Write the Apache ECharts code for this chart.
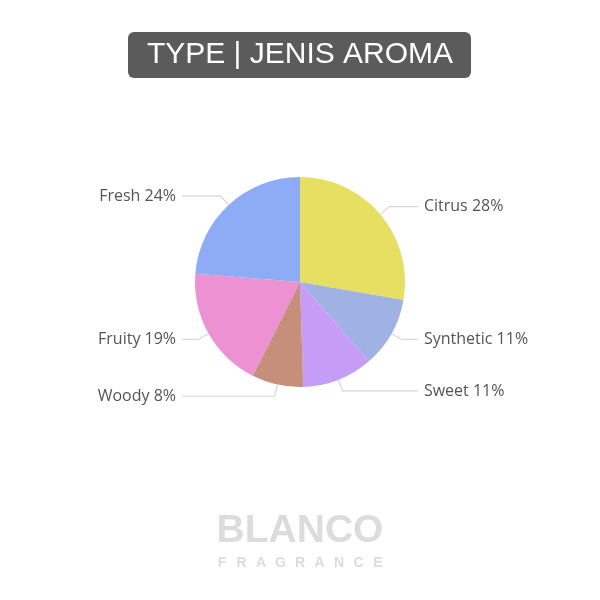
<!DOCTYPE html>
<html><head><meta charset="utf-8">
<script src="https://cdn.jsdelivr.net/npm/echarts@6/dist/echarts.min.js"></script>
<style>html,body{margin:0;padding:0;background:#fff}#c{width:600px;height:600px}</style>
</head><body><div id="c"></div>
<script>
const categories = ['Citrus','Synthetic','Sweet','Woody','Fruity','Fresh'];
const values = [28, 11, 11, 8, 19, 24];
const colors = ['#e6df62','#9fb2e3','#c59cf6','#c68f7b','#ec92d2','#8eabf6'];
const titleText = 'TYPE | JENIS AROMA';
const brandText = 'BLANCO';
const subBrandLetters = ['F','R','A','G','R','A','N','C','E'];

const graphics = [
  {type:'rect', shape:{x:128,y:32,width:343,height:46,r:6}, style:{fill:'#5b5b5b'}},
  {type:'text', x:300, y:55, style:{text:titleText, fill:'#fff', font:'30px "Liberation Sans", Arial, sans-serif', align:'center', verticalAlign:'middle'}},
  {type:'text', x:300, y:531, style:{text:brandText, fill:'#dcdcdc', font:'bold 39px "Liberation Sans", Arial, sans-serif', align:'center', verticalAlign:'middle'}}
];
subBrandLetters.forEach((ch,i)=>{
  graphics.push({type:'text', x:222 + i*19.5, y:563, style:{text:ch, fill:'#dcdcdc', font:'bold 14px "Liberation Sans", Arial, sans-serif', align:'center', verticalAlign:'middle'}});
});

const chart = echarts.init(document.getElementById('c'));
chart.setOption({
  backgroundColor: '#fff',
  animation: false,
  graphic: graphics,
  series: [{
    type: 'pie',
    center: [300, 282],
    radius: 105,
    startAngle: 90,
    clockwise: true,
    data: categories.map((n,i)=>({name:n, value:values[i], itemStyle:{color:colors[i]}})),
    label: {
      formatter: '{b} {c}%',
      color: '#555',
      fontSize: 16,
      fontFamily: '"Open Sans", sans-serif',
      alignTo: 'labelLine',
      distanceToLabelLine: 6
    },
    labelLine: { length: 12, length2: 16, lineStyle: {color:'#d6d6d6', width:1.2} },
    emphasis: {disabled:true}
  }]
});
</script></body></html>
